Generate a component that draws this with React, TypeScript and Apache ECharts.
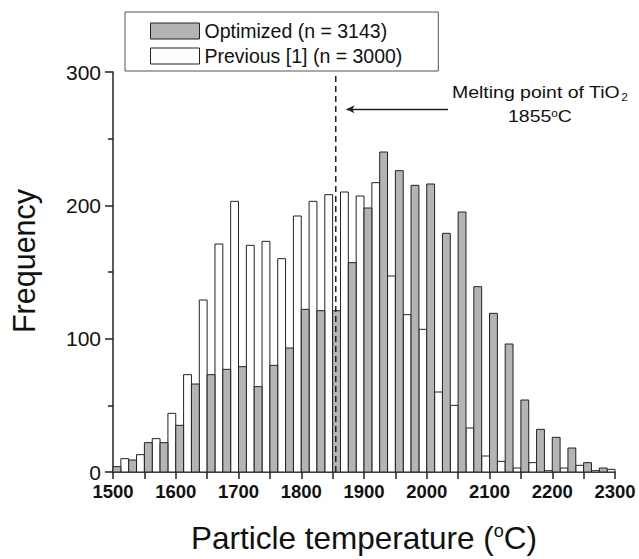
import React, { useEffect, useRef } from "react";
import * as echarts from "echarts";

const binStarts = [
  1500, 1525, 1550, 1575, 1600, 1625, 1650, 1675, 1700, 1725, 1750, 1775, 1800, 1825, 1850, 1875,
  1900, 1925, 1950, 1975, 2000, 2025, 2050, 2075, 2100, 2125, 2150, 2175, 2200, 2225, 2250, 2275,
];
const optimized = [
  4, 9, 22, 22, 35, 66, 73, 77, 79, 64, 80, 93, 122, 121, 121, 157,
  198, 240, 226, 215, 216, 179, 195, 139, 119, 96, 54, 32, 26, 18, 7, 3,
];
const previous = [
  10, 13, 25, 44, 73, 129, 171, 203, 170, 173, 160, 192, 203, 208, 210, 207,
  217, 147, 118, 107, 60, 50, 33, 12, 8, 3, 7, 1, 3, 5, 1, 2,
];
const seriesNames = ["Optimized (n = 3143)", "Previous [1] (n = 3000)"];
const meltingPoint = 1855;
const binWidth = 25;

const FONT = "'Liberation Sans', Arial, sans-serif";

export default function App() {
  const ref = useRef<HTMLDivElement>(null);
  useEffect(() => {
    const chart = echarts.init(ref.current!, null, { renderer: "svg" });
    const makeRender = (offset: number, fill: string) => (_p: any, api: any) => {
      const x0 = api.value(0) + offset;
      const v = api.value(1);
      const p0 = api.coord([x0, v]);
      const p1 = api.coord([x0 + binWidth / 2, 0]);
      return {
        type: "rect",
        shape: { x: p0[0], y: p0[1], width: p1[0] - p0[0], height: p1[1] - p0[1] },
        style: { fill, stroke: "#222", lineWidth: 1 },
      };
    };
    chart.setOption({
      animation: false,
      backgroundColor: "#fff",
      textStyle: { fontFamily: FONT },
      grid: { left: 113, right: 24, top: 72, bottom: 86 },
      legend: {
        left: 125,
        top: 12,
        orient: "vertical",
        padding: [9, 36, 5, 25],
        itemGap: 5,
        itemWidth: 49,
        itemHeight: 16,
        borderColor: "#555",
        borderWidth: 1,
        textStyle: { fontSize: 19.5, color: "#111", fontFamily: FONT, lineHeight: 16 },
        data: [
          { name: seriesNames[0], icon: "rect", itemStyle: { color: "#b4b4b4", borderColor: "#222", borderWidth: 1 } },
          { name: seriesNames[1], icon: "rect", itemStyle: { color: "#fff", borderColor: "#222", borderWidth: 1 } },
        ],
      },
      xAxis: {
        type: "value",
        min: 1500,
        max: 2300,
        interval: 100,
        splitLine: { show: false },
        axisLine: { show: true, lineStyle: { color: "#222", width: 1.5 } },
        axisTick: { show: true, length: 7, lineStyle: { color: "#222", width: 1.5 } },
        minorTick: { show: true, splitNumber: 2, length: 7, lineStyle: { color: "#222", width: 1.5 } },
        minorSplitLine: { show: false },
        axisLabel: {
          fontSize: 18.5,
          fontWeight: "bold",
          color: "#111",
          margin: 10,
          fontFamily: FONT,
          formatter: (v: number) => String(v),
        },
        name: "Particle temperature ({s|o}C)",
        nameLocation: "middle",
        nameGap: 50,
        nameTextStyle: {
          fontSize: 31.5,
          color: "#111",
          fontFamily: FONT,
          rich: { s: { fontSize: 18, verticalAlign: "top", padding: [0, 0, 14, 0], fontFamily: FONT, color: "#111" } },
        },
      },
      yAxis: {
        type: "value",
        min: 0,
        max: 300,
        interval: 100,
        splitLine: { show: false },
        axisLine: { show: true, lineStyle: { color: "#222", width: 1.5 } },
        axisTick: { show: true, length: 8, lineStyle: { color: "#222", width: 1.5 } },
        minorTick: { show: true, splitNumber: 2, length: 5, lineStyle: { color: "#222", width: 1.5 } },
        minorSplitLine: { show: false },
        axisLabel: { fontSize: 21, color: "#111", margin: 12, fontFamily: FONT, lineHeight: 12 },
        name: "Frequency",
        nameLocation: "middle",
        nameGap: 74,
        nameTextStyle: { fontSize: 30.5, color: "#111", fontFamily: FONT, padding: [0, 0, 0, 22] },
      },
      series: [
        {
          type: "custom",
          name: seriesNames[1],
          renderItem: makeRender(binWidth / 2, "#ffffff"),
          encode: { x: 0, y: 1 },
          itemStyle: { color: "#fff", borderColor: "#222" },
          data: binStarts.map((b, i) => [b, previous[i]]),
          z: 2,
        },
        {
          type: "custom",
          name: seriesNames[0],
          renderItem: makeRender(0, "#b4b4b4"),
          encode: { x: 0, y: 1 },
          itemStyle: { color: "#b4b4b4", borderColor: "#222" },
          data: binStarts.map((b, i) => [b, optimized[i]]),
          z: 2,
        },
        {
          type: "line",
          name: "melting",
          data: [
            [meltingPoint, 0],
            [meltingPoint, 298],
          ],
          showSymbol: false,
          symbol: "none",
          lineStyle: { color: "#222", width: 1.5, type: [6, 4] },
          z: 5,
          markLine: {
            silent: true,
            symbol: ["none", "arrow"],
            symbolSize: [6, 8],
            label: { show: false },
            lineStyle: { color: "#222", width: 1.3, type: "solid" },
            data: [
              [
                { coord: [2034, 272] },
                { coord: [1872, 272] },
              ],
            ],
          },
        },
      ],
      graphic: [
        {
          type: "text",
          x: 452,
          y: 83,
          scaleX: 1.18,
          style: {
            text: "{a|Melting point of TiO}{b|2}",
            rich: {
              a: { fontSize: 16.5, fill: "#111", fontFamily: FONT },
              b: { fontSize: 10, fill: "#111", fontFamily: FONT, padding: [9, 0, 0, 1] },
            },
          },
        },
        {
          type: "text",
          x: 508,
          y: 108,
          scaleX: 1.18,
          style: {
            text: "{a|1855}{b|o}{a|C}",
            rich: {
              a: { fontSize: 16.5, fill: "#111", fontFamily: FONT },
              b: { fontSize: 10, fill: "#111", fontFamily: FONT, padding: [0, 0, 8, 0] },
            },
          },
        },
      ],
    });
    return () => chart.dispose();
  }, []);
  return <div ref={ref} style={{ position: "fixed", left: 0, top: 0, width: 639, height: 559 }} />;
}
